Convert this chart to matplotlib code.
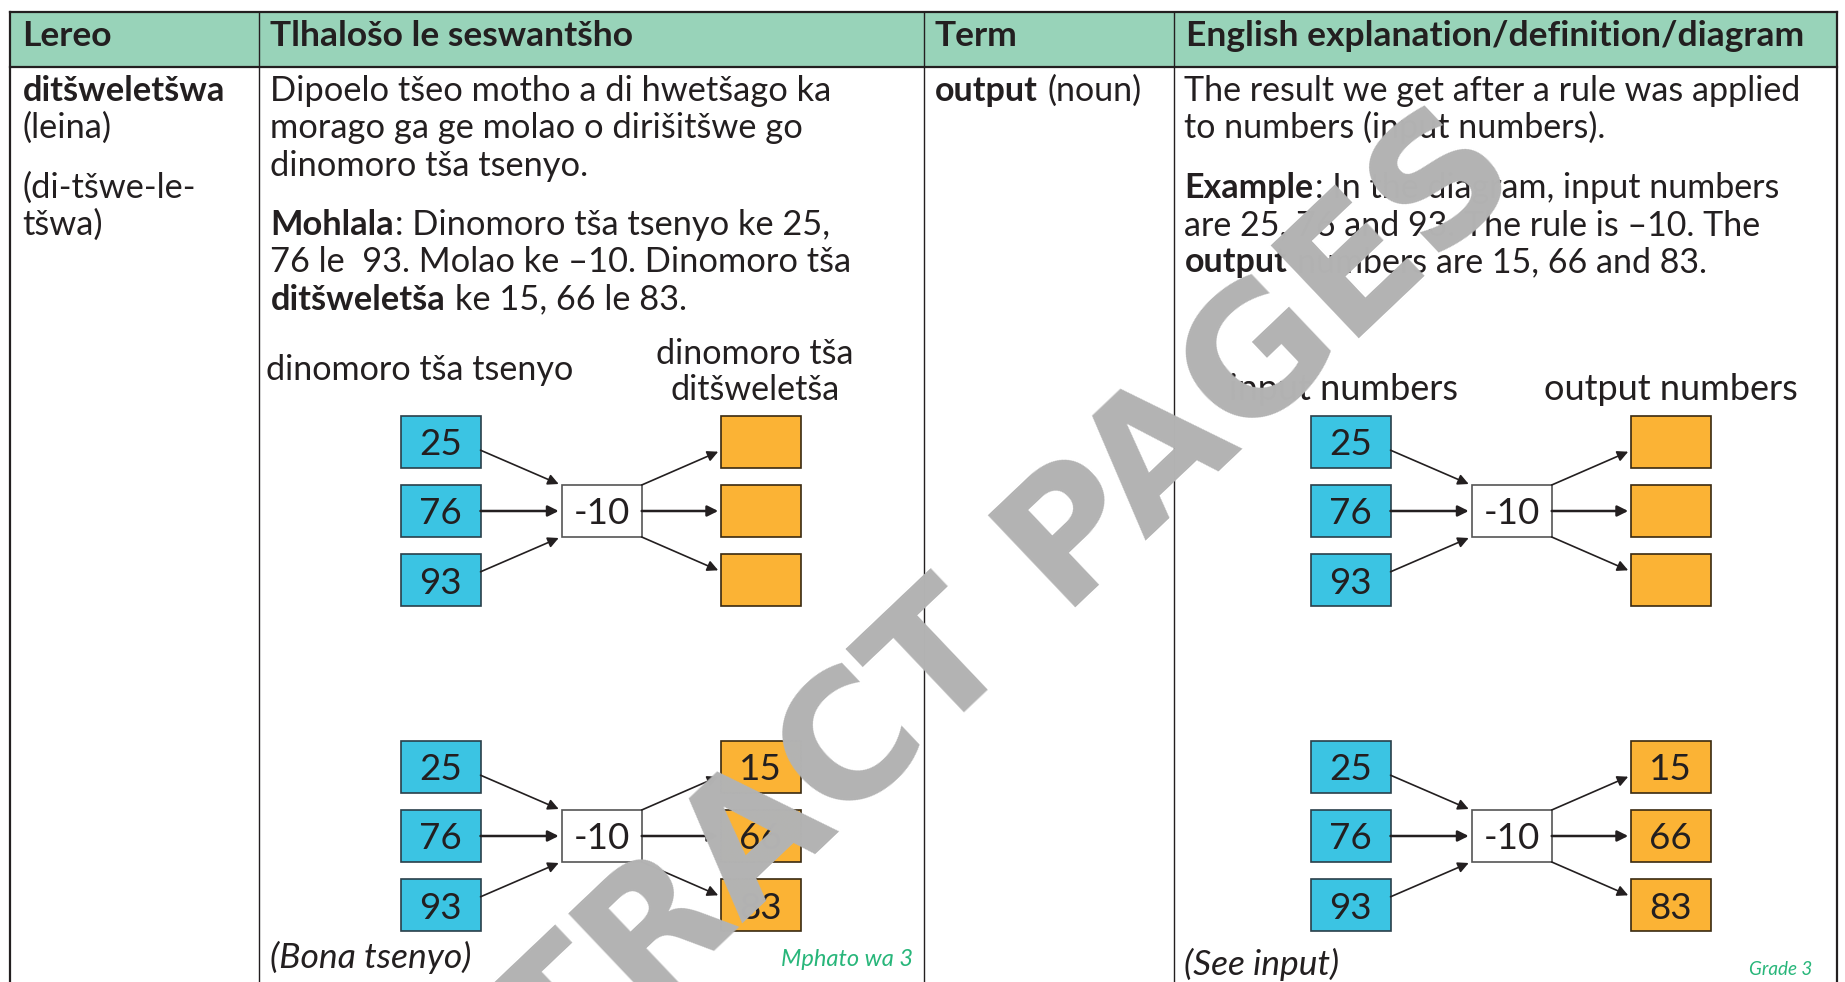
import re
import matplotlib
matplotlib.use("Agg")
import matplotlib.pyplot as plt
from matplotlib import font_manager
from matplotlib.patches import Rectangle

# ------------------------------------------------------------------ data
headers = ["Lereo", "Tlhalošo le seswantšho", "Term",
           "English explanation/definition/diagram"]

col1_paragraphs = [["**ditšweletšwa**", "(leina)"],
                   ["(di-tšwe-le-", "tšwa)"]]
col2_paragraphs = [["Dipoelo tšeo motho a di hwetšago ka",
                    "morago ga ge molao o dirišitšwe go",
                    "dinomoro tša tsenyo."],
                   ["**Mohlala**: Dinomoro tša tsenyo ke 25,",
                    "76 le  93. Molao ke –10. Dinomoro tša",
                    "**ditšweletša** ke 15, 66 le 83."]]
col3_paragraphs = [["**output** (noun)"]]
col4_paragraphs = [["The result we get after a rule was applied",
                    "to numbers (input numbers)."],
                   ["**Example**: In the diagram, input numbers",
                    "are 25, 76 and 93. The rule is –10. The",
                    "**output** numbers are 15, 66 and 83."]]

input_numbers = [25, 76, 93]
rule_label = "-10"
output_numbers = [15, 66, 83]

labels_st = ["dinomoro tša tsenyo", "dinomoro tša", "ditšweletša"]
labels_en = ["input numbers", "output numbers"]
see_st, grade_st = "(Bona tsenyo)", "Mphato wa 3"
see_en, grade_en = "(See input)", "Grade 3"
watermark = "EXTRACT PAGES"

# ------------------------------------------------------------------ style
W, H, DPI = 1845, 982, 100
HEADER_BG = "#98D3B9"
BLUE = "#3BC4E3"
ORANGE = "#FBB335"
GREEN = "#28B67A"
INK = "#231F20"
WM_GRAY = "#B3B3B3"

names = {f.name for f in font_manager.fontManager.ttflist}


def pick(*cands):
    for c in cands:
        if c in names:
            return c
    return "DejaVu Sans"


BODY = pick("Lato", "Noto Sans")
HEAD = BODY

fig = plt.figure(figsize=(W / DPI, H / DPI), dpi=DPI)
ax = fig.add_axes([0, 0, 1, 1])
ax.set_xlim(0, W)
ax.set_ylim(H, 0)
ax.axis("off")
renderer = fig.canvas.get_renderer()


def text_width(s, size, family, weight="normal", style="normal"):
    t = ax.text(0, 0, s, fontsize=size, family=family, fontweight=weight,
                fontstyle=style)
    w = t.get_window_extent(renderer).width
    t.remove()
    return w


def fit(s, target, family, weight="normal", style="normal", base=20.0):
    return base * target / text_width(s, base, family, weight, style)


# sizes fitted to measured widths in the reference
HEAD_SIZE = fit(headers[3], 617, HEAD, "bold")
ST_SIZE = fit(col2_paragraphs[0][0], 561, BODY)
EN_SIZE = fit(col4_paragraphs[0][0], 618, BODY)
ST_LABEL = fit(labels_st[0], 307, BODY)
EN_LABEL = fit(labels_en[1], 255, BODY)
NUM_SIZE = fit("25", 38, BODY) * 1.12

# ------------------------------------------------------------------ table
TOP, HEAD_BOT = 11.5, 67
COLS = [9.5, 259, 924, 1174, 1837]

ax.add_patch(Rectangle((COLS[0], TOP), COLS[-1] - COLS[0], HEAD_BOT - TOP,
                       facecolor=HEADER_BG, edgecolor="none", zorder=0))
ax.plot([COLS[0], COLS[-1]], [TOP, TOP], color=INK, lw=1.6, zorder=1)
ax.plot([COLS[0], COLS[-1]], [HEAD_BOT, HEAD_BOT], color=INK, lw=1.6, zorder=1)
for i, x in enumerate(COLS):
    lw = 1.6 if i in (0, len(COLS) - 1) else 1.0
    ax.plot([x, x], [TOP, H + 5], color=INK, lw=lw, zorder=1)

HEAD_X = [22.5, 270.5, 934.5, 1185.5]
for x, h in zip(HEAD_X, headers):
    ax.text(x, 46, h, fontsize=HEAD_SIZE, family=HEAD, fontweight="bold",
            color=INK, va="baseline", ha="left")


def space_w(size, family, weight):
    return (text_width("n n", size, family, weight)
            - text_width("nn", size, family, weight))


def rich_line(x, y, line, size, family, color=INK):
    parts = [p for p in re.split(r"(\*\*.*?\*\*)", line) if p]
    for p in parts:
        bold = p.startswith("**")
        s = p.strip("*") if bold else p
        weight = "bold" if bold else "normal"
        if s.startswith(" "):
            x += space_w(size, family, weight)
            s = s.lstrip(" ")
        t = ax.text(x, y, s, fontsize=size, family=family, fontweight=weight,
                    color=color, va="baseline", ha="left")
        x += t.get_window_extent(renderer).width + 1


FIRST_BASE, LINE_STEP, PARA_STEP = 101, 37.3, 59.5


def paragraphs(x, paras, size, family):
    y = FIRST_BASE
    for pi, para in enumerate(paras):
        if pi:
            y += PARA_STEP - LINE_STEP
        for line in para:
            rich_line(x, y, line, size, family)
            y += LINE_STEP


paragraphs(22.5, col1_paragraphs, ST_SIZE, BODY)
paragraphs(270.5, col2_paragraphs, ST_SIZE, BODY)
paragraphs(934.5, col3_paragraphs, EN_SIZE, BODY)
paragraphs(1184.5, col4_paragraphs, EN_SIZE, BODY)

# ------------------------------------------------------------------ diagrams
BW, BH, ROW = 80, 52, 69.3
CX_OFF, OX_OFF = 161.2, 320.2
ARROW_KW = dict(arrowstyle="-|>", color=INK, shrinkA=0, shrinkB=0,
                mutation_scale=16)


def arrow(p0, p1, lw):
    ax.annotate("", xy=p1, xytext=p0,
                arrowprops=dict(lw=lw, **ARROW_KW), zorder=3)


def diagram(x0, y0, show_outputs):
    num_px = NUM_SIZE * DPI / 72
    dy = 0.36 * num_px
    for i, v in enumerate(input_numbers):
        top = y0 + i * ROW
        ax.add_patch(Rectangle((x0, top), BW, BH, facecolor=BLUE,
                               edgecolor="#2A3F4A", lw=1.2, zorder=2))
        ax.text(x0 + BW / 2, top + BH / 2 + dy, str(v),
                fontsize=NUM_SIZE, family=BODY, color=INK, ha="center",
                va="baseline", zorder=4)
    cx, ctop = x0 + CX_OFF, y0 + ROW
    ax.add_patch(Rectangle((cx, ctop), BW, BH, facecolor="white",
                           edgecolor="#555555", lw=1.2, zorder=2))
    ax.text(cx + BW / 2, ctop + BH / 2 + dy, rule_label,
            fontsize=NUM_SIZE, family=BODY, color=INK, ha="center",
            va="baseline", zorder=4)
    ox = x0 + OX_OFF
    for i, v in enumerate(output_numbers):
        top = y0 + i * ROW
        ax.add_patch(Rectangle((ox, top), BW, BH, facecolor=ORANGE,
                               edgecolor="#3A2A10", lw=1.2, zorder=2))
        if show_outputs:
            ax.text(ox + BW / 2, top + BH / 2 + dy, str(v),
                    fontsize=NUM_SIZE, family=BODY, color=INK, ha="center",
                    va="baseline", zorder=4)
    n = len(input_numbers)
    for i in range(n):
        mid = y0 + i * ROW + BH / 2
        sign = (1 - i)  # +1 top, 0 middle, -1 bottom
        target = ctop + BH / 2 - sign * BH / 2
        lw = 1.8 if sign == 0 else 1.2
        arrow((x0 + BW, mid + sign * 8.5), (cx - 3, target - sign * 1), lw)
        arrow((cx + BW, target), (ox - 2.5, mid + sign * 10), lw)


for dx in (0, 910):
    diagram(400.5 + dx, 415.7, False)
    diagram(400.5 + dx, 740.7, True)

# diagram captions
ax.text(266.5, 379.5, labels_st[0], fontsize=ST_LABEL, family=BODY, color=INK,
        ha="left", va="baseline")
ax.text(755, 364, labels_st[1], fontsize=ST_LABEL, family=BODY, color=INK,
        ha="center", va="baseline")
ax.text(755, 400, labels_st[2], fontsize=ST_LABEL, family=BODY, color=INK,
        ha="center", va="baseline")
ax.text(1229, 400, labels_en[0], fontsize=EN_LABEL, family=BODY, color=INK,
        ha="left", va="baseline")
ax.text(1798, 400, labels_en[1], fontsize=EN_LABEL, family=BODY, color=INK,
        ha="right", va="baseline")

# footers
ax.text(269.5, 968, see_st, fontsize=fit(see_st, 201, BODY, style="italic"),
        family=BODY, style="italic", color=INK, ha="left", va="baseline")
ax.text(913.5, 966, grade_st, fontsize=fit(grade_st, 132, BODY, style="italic"),
        family=BODY, style="italic", color=GREEN, ha="right", va="baseline")
ax.text(1184.5, 975, see_en, fontsize=fit(see_en, 155, BODY, style="italic"),
        family=BODY, style="italic", color=INK, ha="left", va="baseline")
ax.text(1812, 975, grade_en, fontsize=fit(grade_en, 63, BODY, style="italic"),
        family=BODY, style="italic", color=GREEN, ha="right", va="baseline")

# watermark
WM_SIZE = fit(watermark, 1585, "DejaVu Sans", "bold")
ax.text(916, 692, watermark, fontsize=WM_SIZE, family="DejaVu Sans",
        fontweight="bold", color=WM_GRAY, rotation=43.5, rotation_mode="anchor",
        ha="center", va="center", zorder=10)

fig.savefig("out.png", dpi=DPI)
